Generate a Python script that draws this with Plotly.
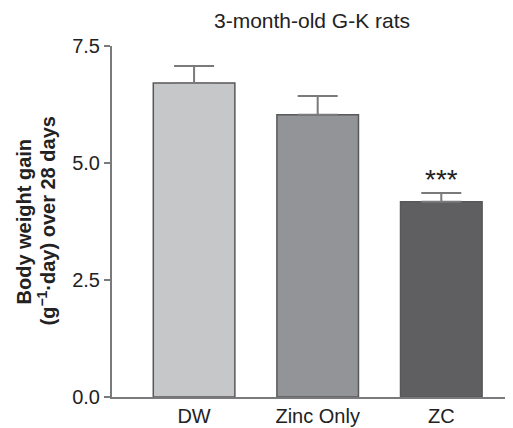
import plotly.graph_objects as go

categories = ["DW", "Zinc Only", "ZC"]
means = [6.71, 6.03, 4.17]
sem_up = [0.36, 0.40, 0.19]
bar_colors = ["#c6c7c9", "#939497", "#5f5f62"]
y_ticks = [0.0, 2.5, 5.0, 7.5]
y_tick_labels = ["0.0", "2.5", "5.0", "7.5"]
y_title_lines = ["Body weight gain", "(g<sup>−1</sup>·day) over 28 days"]

FONT = "Liberation Sans, Arial, sans-serif"

fig = go.Figure()
fig.add_trace(go.Bar(
    x=categories, y=means,
    width=0.66,
    marker=dict(color=bar_colors, line=dict(color="#58585a", width=1.5)),
    error_y=dict(type="data", symmetric=False, array=sem_up,
                 arrayminus=[0]*len(sem_up),
                 color="#7a7a7c", thickness=2, width=20),
))

fig.add_annotation(x="ZC", y=means[2] + sem_up[2], yref="y", xref="x",
                   text="***", showarrow=False, yshift=13, yanchor="middle",
                   font=dict(family=FONT, size=28, color="#222"))

for line, xs in zip(y_title_lines, [-89, -66]):
    fig.add_annotation(xref="paper", yref="paper", x=0, y=0.5, xshift=xs,
                       xanchor="center", yanchor="middle",
                       text="<b>" + line + "</b>",
                       textangle=-90, showarrow=False,
                       font=dict(family=FONT, size=20, color="#222"))

fig.update_layout(
    width=505, height=420,
    margin=dict(l=104, r=0, t=38, b=31),
    paper_bgcolor="white", plot_bgcolor="white",
    showlegend=False,
    title=dict(text="3-month-old G-K rats", x=0.602, xanchor="center",
               y=0.971, yanchor="middle",
               font=dict(family=FONT, size=21, color="#222")),
    font=dict(family=FONT, size=20, color="#222"),
)
fig.update_xaxes(range=[-0.664, 2.58], showline=True, linecolor="#7a7a7c",
                 linewidth=2, ticks="", showgrid=False, zeroline=False,
                 tickfont=dict(family=FONT, size=20, color="#222"))
fig.update_yaxes(range=[0, 7.5], tickvals=y_ticks, ticktext=y_tick_labels,
                 showline=True, linecolor="#7a7a7c", linewidth=2,
                 ticks="outside", ticklen=6, tickwidth=2, tickcolor="#7a7a7c",
                 showgrid=False, zeroline=False,
                 tickfont=dict(family=FONT, size=20, color="#222"))

fig.write_html("out.html")
